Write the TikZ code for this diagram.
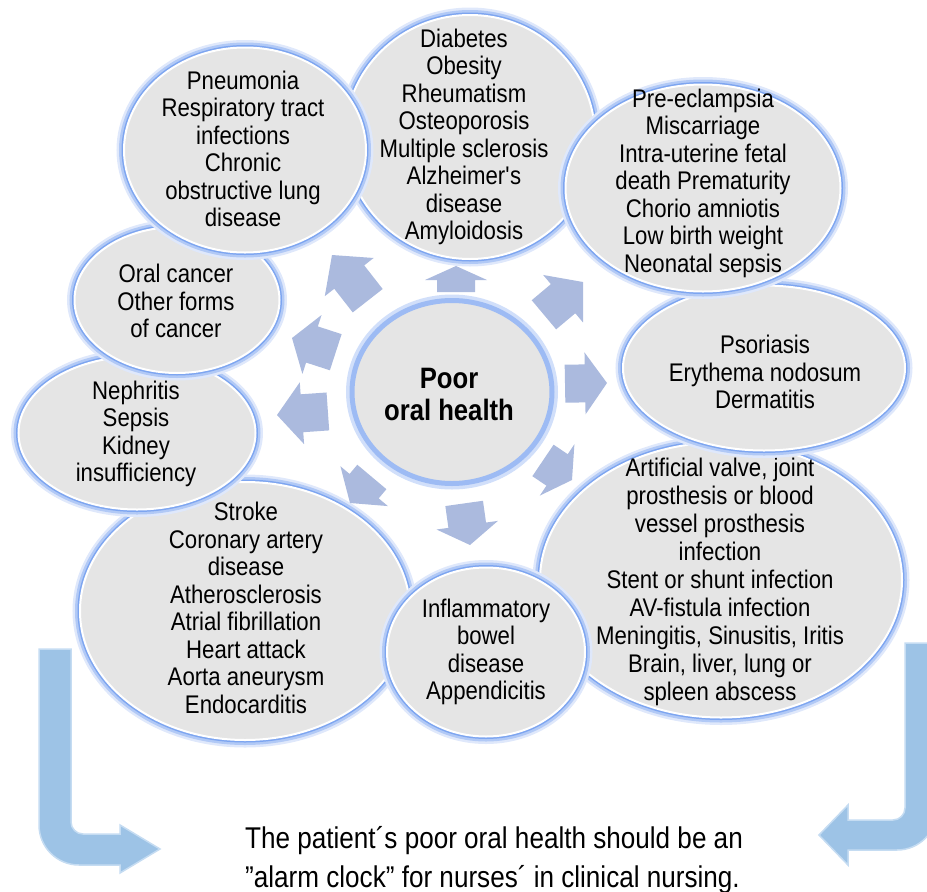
\documentclass[tikz,border=0pt]{standalone}
\usepackage{fontspec}
\setmainfont{Liberation Sans}[FakeStretch=0.87]
\usetikzlibrary{shapes.geometric}

\definecolor{glow}{RGB}{125,165,240}
\definecolor{bubble}{RGB}{229,229,229}
\definecolor{pointer}{RGB}{171,186,222}
\definecolor{bendfill}{RGB}{157,195,230}
\definecolor{bendline}{RGB}{197,220,242}

\newcommand{\outarrow}[4]{%
  \fill[pointer, shift={#1}, rotate=#2]
    (0,0) -- (-#3,-31) -- (-#3,-19) -- (-#3-#4,-19)
    -- (-#3-#4,19) -- (-#3,19) -- (-#3,31) -- cycle;}

\begin{document}
\begin{tikzpicture}[x=1pt, y=-1pt,
  disease/.style = {shape=ellipse, fill=bubble, draw=white, line width=2pt,
    inner sep=0pt, preaction={draw=glow!25, line width=15pt},
    preaction={draw=glow!60, line width=10pt},
    preaction={draw=glow, line width=5pt}},
  hubring/.style = {shape=ellipse, fill=bubble, draw=glow!75, line width=5pt,
    inner sep=0pt, preaction={draw=glow!35, line width=12pt}},
  txt/.style = {align=center, inner sep=0pt,
    font=\fontsize{25.5}{27.5}\selectfont},
  note/.style = {align=left, inner sep=0pt,
    font=\fontsize{30}{39}\selectfont}]
  \useasboundingbox (0,0) rectangle (927,892);

  \node[disease, minimum width=330, minimum height=258] (heart) at (245,611) {};
  \node[txt] (heart-t) at (246,608) {Stroke\\ Coronary artery\\ disease\\
    Atherosclerosis\\ Atrial fibrillation\\ Heart attack\\ Aorta aneurysm\\
    Endocarditis};
  \node[disease, minimum width=362, minimum height=275] (valve) at (721,580) {};
  \node[txt, font=\fontsize{25.5}{28}\selectfont] (valve-t) at (720,582)
    {Artificial valve, joint\\ prosthesis or blood\\ vessel prosthesis\\
    infection\\ Stent or shunt infection\\ AV-fistula infection\\
    Meningitis, Sinusitis, Iritis\\ Brain, liver, lung or\\ spleen abscess};
  \node[disease, minimum width=198, minimum height=169] (gut) at (486,652) {};
  \node[txt] (gut-t) at (486,652) {Inflammatory\\ bowel\\ disease\\ Appendicitis};
  \node[disease, minimum width=237, minimum height=153] (kid) at (137,433) {};
  \node[txt] (kid-t) at (136,434) {Nephritis\\ Sepsis\\ Kidney\\ insufficiency};
  \node[disease, minimum width=205, minimum height=146] (onc) at (177,300) {};
  \node[txt] (onc-t) at (176,301) {Oral cancer\\ Other forms\\ of cancer};
  \node[disease, minimum width=250, minimum height=244] (dia) at (470,137) {};
  \node[txt] (dia-t) at (464,137) {Diabetes\\ Obesity\\ Rheumatism\\
    Osteoporosis\\ Multiple sclerosis\\ Alzheimer\textquotesingle s\\ disease\\
    Amyloidosis};
  \node[disease, minimum width=242, minimum height=205] (pneu) at (245,150) {};
  \node[txt] (pneu-t) at (243,149) {Pneumonia\\ Respiratory tract\\ infections\\
    Chronic\\ obstructive lung\\ disease};
  \node[disease, minimum width=282, minimum height=165] (skin) at (764,368) {};
  \node[txt] (skin-t) at (765,372) {Psoriasis\\ Erythema nodosum\\ Dermatitis};
  \node[disease, minimum width=275, minimum height=207] (preg) at (703,188) {};
  \node[txt] (preg-t) at (703,183) {Pre-eclampsia\\ Miscarriage\\
    Intra-uterine fetal\\ death Prematurity\\ Chorio amniotis\\
    Low birth weight\\ Neonatal sepsis};

  \node[hubring, minimum width=200, minimum height=183] (hub) at (452,392) {};
  \node[txt, font=\bfseries\fontsize{29.5}{32}\selectfont] (hub-t) at (449,394)
    {Poor\\ oral health};

  \outarrow{(456,266)}{90}{14}{12}
  \outarrow{(332,255)}{128}{28}{30}
  \outarrow{(292,338)}{162}{21}{25}
  \outarrow{(277,415)}{184}{25}{26}
  \outarrow{(350,503)}{230}{22}{12}
  \outarrow{(470,545)}{278}{20}{22}
  \outarrow{(572,480)}{326}{18}{17}
  \outarrow{(607,383)}{1}{22}{20}
  \outarrow{(583,282)}{40}{26}{25}

  \filldraw[fill=bendfill, draw=bendline, line width=1.5pt]
    (39,649) -- (71,649) -- (71,822)
    .. controls (71,828.6) and (76.4,834) .. (83,834) -- (120,834)
    -- (120,825) -- (160,849) -- (120,873) -- (120,865) -- (79,865)
    .. controls (56.9,865) and (39,847.1) .. (39,825) -- cycle;
  \filldraw[fill=bendfill, draw=bendline, line width=1.5pt]
    (937,643) -- (905,643) -- (905,808)
    .. controls (905,814.6) and (899.6,820) .. (893,820) -- (848,820)
    -- (848,805) -- (819,835) -- (848,865) -- (848,850) -- (897,850)
    .. controls (919.1,850) and (937,832.1) .. (937,810) -- cycle;

  \node[note, anchor=west] (msg) at (245,860)
    {The patient´s poor oral health should be an\\
    ”alarm clock” for nurses´ in clinical nursing.};
\end{tikzpicture}
\end{document}
